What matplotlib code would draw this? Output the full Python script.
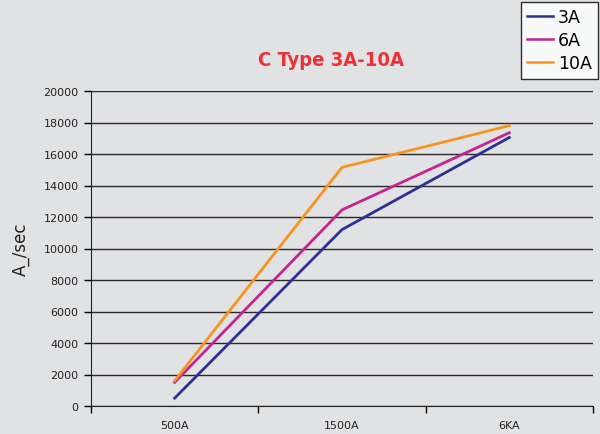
import matplotlib
matplotlib.use('Agg')
import matplotlib.pyplot as plt
import numpy as np

categories = ['500A', '1500A', '6KA']
series_names = ['3A', '6A', '10A']
vals_3a = [500, 11200, 17050]
vals_6a = [1500, 12450, 17350]
vals_10a = [1600, 15150, 17800]
colors = ['#2e3192', '#c4258f', '#f7941d']

bg = '#e1e2e4'

fig = plt.figure(figsize=(6, 4.35), dpi=100, facecolor=bg)
ax = fig.add_axes([91/600, 1-407/435, (593-91)/600, (407-92)/435])
ax.set_facecolor(bg)

x = np.arange(len(categories)) + 0.5
for name, vals, c in zip(series_names, [vals_3a, vals_6a, vals_10a], colors):
    ax.plot(x, vals, color=c, lw=2, label=name)

ax.set_xlim(0, 3)
ax.set_ylim(0, 20000)
ax.set_yticks(np.arange(0, 20001, 2000))
ax.set_xticks([0, 1, 2, 3])
ax.set_xticklabels([])
ax.set_xticks(x, minor=True)
ax.set_xticklabels(categories, minor=True)
ax.tick_params(axis='x', which='minor', length=0, labelsize=8, pad=10, colors='#222222')
ax.tick_params(axis='x', which='major', length=5, width=1, direction='out')
ax.tick_params(axis='y', length=5, width=1, labelsize=8, labelcolor='#222222', pad=4)
ax.yaxis.grid(True, color='#2a2a2a', lw=1.0)
ax.set_axisbelow(True)
for s in ['top', 'right']:
    ax.spines[s].set_visible(False)
ax.spines['left'].set_color('#222222')
ax.spines['bottom'].set_color('#222222')

ax.set_ylabel('A_/sec', fontsize=12, labelpad=10, color='#222222')

fig.text(331/600, 1-60/435, 'C Type 3A-10A', ha='center', va='center',
         color='#ec3237', fontsize=14.5, fontweight='bold',
         family=['DejaVu Sans Condensed', 'DejaVu Sans'], fontstretch='condensed')

leg = fig.legend(loc='upper right', bbox_to_anchor=(598/600, 1-3/435), fontsize=12.5,
                 frameon=True, fancybox=False, edgecolor='black', facecolor='white',
                 handlelength=1.5, handletextpad=0.3, borderpad=0.35, labelspacing=0.3,
                 borderaxespad=0)
leg.get_frame().set_linewidth(1)
for h in leg.get_lines():
    h.set_linewidth(1.8)

fig.savefig('out.png', dpi=100, facecolor=bg)
